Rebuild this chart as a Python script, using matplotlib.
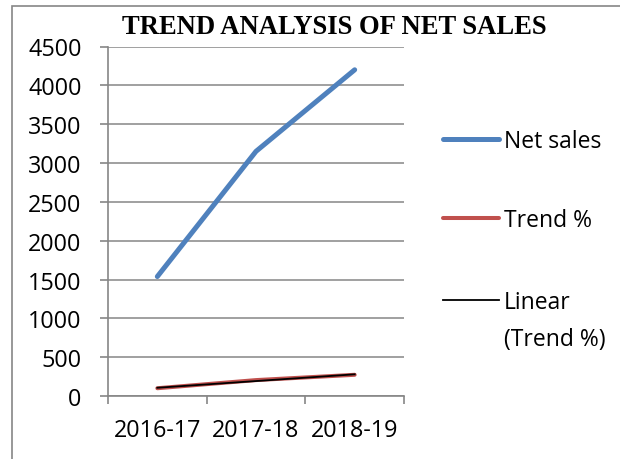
import numpy as np
import matplotlib
matplotlib.use("Agg")
import matplotlib.pyplot as plt
from matplotlib.lines import Line2D
from matplotlib.patches import Rectangle

# data
years = ["2016-17", "2017-18", "2018-19"]
net_sales = [1538, 3150, 4200]
trend_pct = [100, 204.8, 273.1]

blue = "#4F81BD"
red = "#C0504D"
grey = "#868686"

plt.rcParams["font.family"] = ["Open Sans", "DejaVu Sans"]

fig = plt.figure(figsize=(6.2, 4.6), dpi=100)
ax = fig.add_axes([108 / 620, 1 - 397 / 460, (404 - 108) / 620, (397 - 47.5) / 460])

x = np.arange(len(years))
ax.plot(x, net_sales, color=blue, lw=3.6, solid_capstyle="round", label="Net sales")
ax.plot(x, trend_pct, color=red, lw=2.9, solid_capstyle="round", label="Trend %")

# linear trendline of the trend %
coef = np.polyfit(x, trend_pct, 1)
ax.plot(x, np.polyval(coef, x), color="black", lw=1.3, label="Linear (Trend %)")

ax.set_xlim(-0.5, len(years) - 0.5)
ax.set_ylim(0, 4500)
ax.set_yticks(np.arange(0, 4501, 500))
ax.set_xticks(x)
ax.set_xticklabels(years)
ax.set_xticks(np.arange(-0.5, len(years)), minor=True)
ax.tick_params(axis="x", which="major", length=0, pad=16, labelsize=16.8)
ax.tick_params(axis="x", which="minor", length=6, width=1.2, color=grey, direction="out")
ax.tick_params(axis="y", length=6, width=1.2, color=grey, pad=13, labelsize=16.8)

ax.grid(axis="y", color=grey, lw=1.1)
ax.set_axisbelow(True)
for s in ["top", "right"]:
    ax.spines[s].set_visible(False)
for s in ["left", "bottom"]:
    ax.spines[s].set_color(grey)
    ax.spines[s].set_linewidth(1.2)

fig.text(334 / 620, 1 - 27 / 460, "TREND ANALYSIS OF NET SALES", ha="center", va="center",
         family="Liberation Serif", fontweight="bold", fontsize=19.2)

h1 = [Line2D([], [], color=blue, lw=3.6, solid_capstyle="round"),
      Line2D([], [], color=red, lw=2.9, solid_capstyle="round")]
leg1 = fig.legend(h1, ["Net sales", "Trend %"], loc="upper left",
                  bbox_to_anchor=(443 / 620, 1 - 130 / 460), frameon=False,
                  fontsize=16.5, handlelength=2.45, handletextpad=0.2,
                  labelspacing=2.38, borderpad=0, borderaxespad=0)
h2 = [Line2D([], [], color="black", lw=1.3), Line2D([], [], color="none")]
leg2 = fig.legend(h2, ["Linear", "(Trend %)"], loc="upper left",
                  bbox_to_anchor=(443 / 620, 1 - 291 / 460), frameon=False,
                  fontsize=16.5, handlelength=2.45, handletextpad=0.2,
                  labelspacing=0.55, borderpad=0, borderaxespad=0)

fig.patches.append(Rectangle((12 / 620, -0.2), 1.2, 1.2 - 7 / 460, transform=fig.transFigure,
                             fill=False, edgecolor=grey, lw=1.2))

fig.savefig("out.png", dpi=100)
